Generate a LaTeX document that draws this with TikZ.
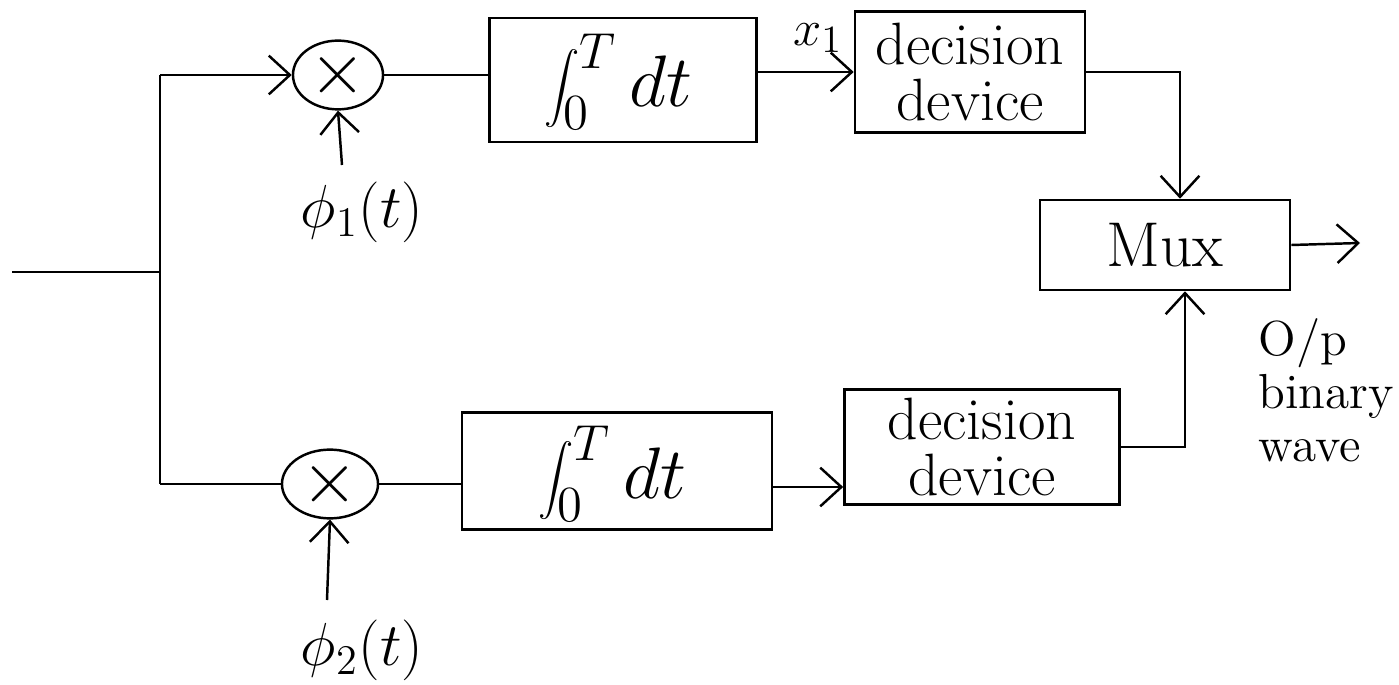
\documentclass[tikz,border=0pt]{standalone}
\usetikzlibrary{arrows.meta,shapes.geometric}
\begin{document}
\begin{tikzpicture}[x=0.01cm,y=-0.01cm,
  wire/.style={line width=0.7pt},
  flow/.style={wire,-{Straight Barb[length=6pt,width=11pt,line width=0.7pt]}},
  block/.style={draw,line width=0.7pt,inner sep=0pt,align=center},
  mixer/.style={draw,ellipse,line width=0.7pt,inner sep=0pt,font=\fontsize{20}{22}\selectfont},
  txt/.style={font=\fontsize{17}{16}\selectfont},
  big/.style={font=\fontsize{22}{26}\selectfont}]
\useasboundingbox (0,0) rectangle (1399,685);

% processing blocks
\node[block,minimum width=2.67cm,minimum height=1.24cm] (int1) at (623,80) {};
\node[block,minimum width=2.30cm,minimum height=1.21cm,txt] (dec1) at (970,72) {decision\\device};
\node[block,minimum width=2.50cm,minimum height=0.90cm,font=\fontsize{18}{20}\selectfont] (mux) at (1165,245) {Mux};
\node[block,minimum width=3.10cm,minimum height=1.17cm] (int2) at (617,471) {};
\node[block,minimum width=2.75cm,minimum height=1.15cm,txt] (dec2) at (982,447) {decision\\device};

% integrator labels
\node[big] (intlbl1) at (618,82) {$\displaystyle\int_0^T dt$};
\node[big] (intlbl2) at (612,474) {$\displaystyle\int_0^T dt$};

% multipliers
\node[mixer,minimum width=0.90cm,minimum height=0.63cm] (mult1) at (338,75) {$\times$};
\node[mixer,minimum width=0.96cm,minimum height=0.60cm] (mult2) at (330,484) {$\times$};

% free ends of the wiring
\coordinate (in) at (12,272);
\coordinate (split) at (160,272);
\coordinate (top) at (160,75);
\coordinate (bot) at (160,484);
\coordinate (p1) at (342,165);
\coordinate (p2) at (327,600);
\coordinate (out) at (1360,243);

% input bus
\draw[wire] (in) -- (split);
\draw[wire] (top) -- (bot);
\draw[flow] (top) -- (mult1.west);
\draw[wire] (bot) -- (mult2.west);

% reference signals
\draw[flow] (p1) -- (mult1.south);
\draw[flow] (p2) -- (mult2.south);
\node[txt] (phi1) at (362,212) {$\phi_1(t)$};
\node[txt] (phi2) at (362,650) {$\phi_2(t)$};

% upper branch
\draw[wire] (mult1.east) -- (mult1.east -| int1.west);
\draw[flow] (dec1.west -| int1.east) -- (dec1.west);
\node[font=\fontsize{15}{16}\selectfont] (x1) at (818,38) {$x_1$};
\draw[flow] (dec1.east) -| ([xshift=0.15cm]mux.north);

% lower branch
\draw[wire] (mult2.east) -- (mult2.east -| int2.west);
\draw[flow] (int2.east |- 0,487) -- (dec2.west |- 0,487);
\draw[flow] (dec2.east) -| ([xshift=0.2cm]mux.south);

% output
\draw[flow] (mux.east) -- (out);
\node[anchor=north west,align=left,inner sep=0pt,font=\fontsize{14}{15}\selectfont] (olbl) at (1258,318) {O/p\\binary\\wave};
\end{tikzpicture}
\end{document}
